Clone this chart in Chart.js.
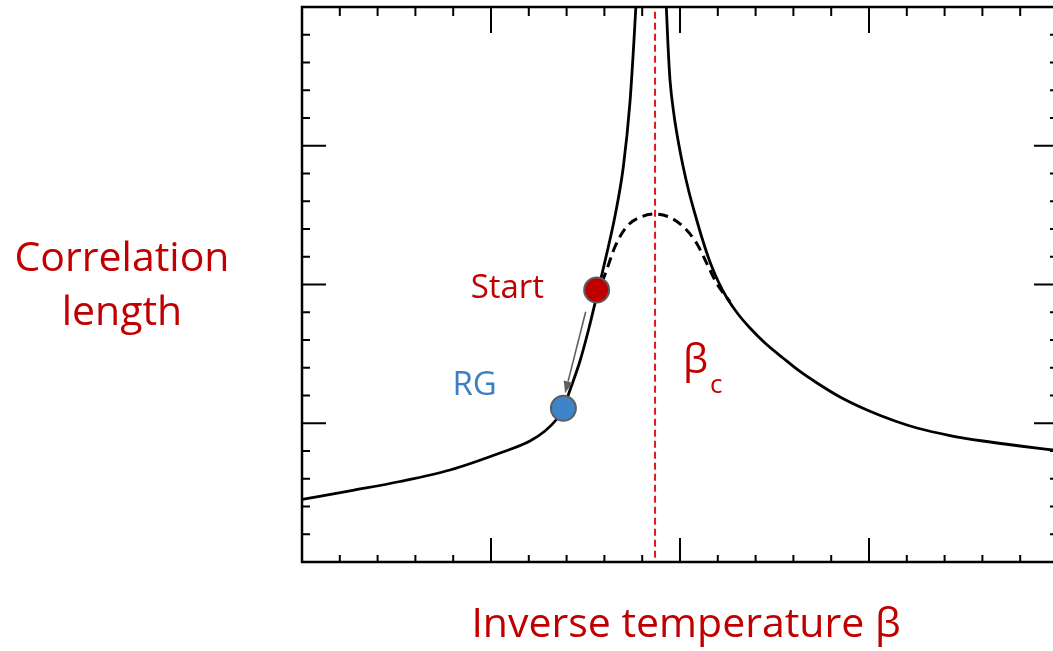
<!DOCTYPE html>
<html>
<head>
<meta charset="utf-8">
<script src="https://cdn.jsdelivr.net/npm/chart.js@4.4.1/dist/chart.umd.min.js"></script>
<style>
  html, body { margin: 0; padding: 0; background: #ffffff; overflow: hidden; }
  #wrap { width: 1053px; height: 651px; overflow: hidden; position: relative; }
  #c { display: block; }
</style>
</head>
<body>
<div id="wrap"><canvas id="c" width="1060" height="651"></canvas></div>
<script>
// ---- Data (x: inverse temperature, y: correlation length, arbitrary units) ----
const leftBranchX  = [0, 0.254, 0.5185, 0.783, 1.0476, 1.2063, 1.2857, 1.3439, 1.3825, 1.4180, 1.4709, 1.5185, 1.5582, 1.5873, 1.6206, 1.6561, 1.7000, 1.7354, 1.7566, 1.7698];
const leftBranchY  = [0.4505, 0.5132, 0.5802, 0.6631, 0.7856, 0.8721, 0.9441, 1.0234, 1.1077, 1.2396, 1.4486, 1.6865, 1.9099, 2.0757, 2.2703, 2.4937, 2.8468, 3.3153, 3.7622, 4.0865];
const rightBranchX = [1.9249, 1.9365, 1.9471, 1.9683, 1.9894, 2.0159, 2.0476, 2.0794, 2.1164, 2.1587, 2.2011, 2.2487, 2.3069, 2.3704, 2.4497, 2.5450, 2.6349, 2.7249, 2.8466, 2.9894, 3.1376, 3.2540, 3.4286, 3.6032, 3.7989, 4.0];
const rightBranchY = [4.0865, 3.7261, 3.4739, 3.2216, 3.0414, 2.8541, 2.6667, 2.5081, 2.3351, 2.1622, 2.0252, 1.9027, 1.7874, 1.6865, 1.5784, 1.4703, 1.3730, 1.2901, 1.1892, 1.0955, 1.0162, 0.9658, 0.9117, 0.8721, 0.8360, 0.8036];
const finiteX      = [1.558, 1.612, 1.656, 1.718, 1.797, 1.868, 1.938, 2.017, 2.088, 2.150, 2.194, 2.265];
const finiteY      = [1.910, 2.105, 2.272, 2.417, 2.489, 2.508, 2.489, 2.417, 2.297, 2.128, 2.009, 1.874];
const betaC        = 1.868;
const startPoint   = [1.559, 1.960];
const rgPoint      = [1.383, 1.108];
const arrowFrom    = [1.501, 1.804];
const arrowTo      = [1.392, 1.216];
const axisMax      = 4;
const ticksPerMajor = 5;

const toPts = (xs, ys) => xs.map((x, i) => ({ x: x, y: ys[i] }));

const RED = '#c00000';
const BLUE = '#3b7fc6';
const FONT = '"Open Sans", "Noto Sans", sans-serif';

const framePlugin = {
  id: 'frame',
  afterDatasetsDraw(chart) {
    const ctx = chart.ctx;
    const xs = chart.scales.x, ys = chart.scales.y;
    const a = chart.chartArea;
    ctx.save();
    // arrow RG
    const x1 = xs.getPixelForValue(arrowFrom[0]), y1 = ys.getPixelForValue(arrowFrom[1]);
    const x2 = xs.getPixelForValue(arrowTo[0]), y2 = ys.getPixelForValue(arrowTo[1]);
    const ang = Math.atan2(y2 - y1, x2 - x1);
    const hl = 12, hw = 4.5;
    ctx.strokeStyle = '#606060'; ctx.fillStyle = '#606060'; ctx.lineWidth = 1.6;
    ctx.beginPath();
    ctx.moveTo(x1, y1);
    ctx.lineTo(x2 - hl * Math.cos(ang), y2 - hl * Math.sin(ang));
    ctx.stroke();
    ctx.beginPath();
    ctx.moveTo(x2, y2);
    ctx.lineTo(x2 - hl * Math.cos(ang) + hw * Math.sin(ang), y2 - hl * Math.sin(ang) - hw * Math.cos(ang));
    ctx.lineTo(x2 - hl * Math.cos(ang) - hw * Math.sin(ang), y2 - hl * Math.sin(ang) + hw * Math.cos(ang));
    ctx.closePath();
    ctx.fill();

    // frame
    ctx.strokeStyle = '#000'; ctx.lineWidth = 2.5;
    ctx.strokeRect(a.left, a.top, a.right - a.left, a.bottom - a.top);
    // inward ticks on all four sides
    ctx.lineWidth = 2;
    const n = axisMax * ticksPerMajor;
    for (let i = 1; i < n; i++) {
      const v = i / ticksPerMajor;
      const major = i % ticksPerMajor === 0;
      const px = xs.getPixelForValue(v);
      const py = ys.getPixelForValue(v);
      ctx.beginPath();
      ctx.moveTo(px, a.bottom); ctx.lineTo(px, a.bottom - (major ? 24 : 7));
      ctx.moveTo(px, a.top); ctx.lineTo(px, a.top + (major ? 26 : 9));
      ctx.moveTo(a.left, py); ctx.lineTo(a.left + (major ? 24 : 8), py);
      ctx.moveTo(a.right, py); ctx.lineTo(a.right - (major ? 24 : 8), py);
      ctx.stroke();
    }
    ctx.restore();
  },
  afterDraw(chart) {
    const ctx = chart.ctx;
    const xs = chart.scales.x, ys = chart.scales.y;
    ctx.save();
    ctx.textBaseline = 'alphabetic';
    ctx.fillStyle = RED;
    ctx.font = '41px ' + FONT;
    ctx.textAlign = 'center';
    ctx.fillText('Correlation', 122, 271);
    ctx.fillText('length', 122, 325);
    ctx.fillText('Inverse temperature β', 686, 637);
    ctx.textAlign = 'left';
    ctx.font = '33px ' + FONT;
    ctx.fillStyle = RED;
    ctx.fillText('Start', xs.getPixelForValue(startPoint[0]) - 126, ys.getPixelForValue(startPoint[1]) + 8);
    ctx.fillStyle = BLUE;
    ctx.fillText('RG', xs.getPixelForValue(rgPoint[0]) - 111, ys.getPixelForValue(rgPoint[1]) - 13);
    ctx.fillStyle = RED;
    const bx = xs.getPixelForValue(betaC);
    ctx.font = '40px ' + FONT;
    ctx.fillText('β', bx + 28, 373);
    ctx.font = '26px ' + FONT;
    ctx.fillText('c', bx + 55, 393);
    ctx.restore();
  }
};

new Chart(document.getElementById('c'), {
  type: 'line',
  data: {
    datasets: [
      { label: 'Start', data: [{ x: startPoint[0], y: startPoint[1] }], showLine: false,
        pointRadius: 12.5, pointBackgroundColor: RED, pointBorderColor: '#5e5e5e', pointBorderWidth: 2, order: 0 },
      { label: 'RG', data: [{ x: rgPoint[0], y: rgPoint[1] }], showLine: false,
        pointRadius: 12.5, pointBackgroundColor: '#3f84c8', pointBorderColor: '#5e5e5e', pointBorderWidth: 2, order: 0 },
      { label: 'left', data: toPts(leftBranchX, leftBranchY), borderColor: '#000', borderWidth: 2.8,
        pointRadius: 0, cubicInterpolationMode: 'monotone', fill: false, order: 2 },
      { label: 'right', data: toPts(rightBranchX, rightBranchY), borderColor: '#000', borderWidth: 2.8,
        pointRadius: 0, cubicInterpolationMode: 'monotone', fill: false, order: 2 },
      { label: 'finite', data: toPts(finiteX, finiteY), borderColor: '#000', borderWidth: 3,
        borderDash: [10, 6], pointRadius: 0, cubicInterpolationMode: 'monotone', fill: false, order: 2 },
      { label: 'betac', data: [{ x: betaC, y: 0.03 }, { x: betaC, y: axisMax }], borderColor: '#e0161e',
        borderWidth: 2, borderDash: [7, 4], pointRadius: 0, tension: 0, fill: false, order: 3 }
    ]
  },
  options: {
    responsive: false,
    animation: false,
    devicePixelRatio: 1,
    layout: { autoPadding: false, padding: { left: 302, top: 7, right: 2, bottom: 89 } },
    plugins: { legend: { display: false }, tooltip: { enabled: false }, title: { display: false } },
    scales: {
      x: { type: 'linear', min: 0, max: axisMax, display: false },
      y: { type: 'linear', min: 0, max: axisMax, display: false }
    }
  },
  plugins: [framePlugin]
});
</script>
</body>
</html>
